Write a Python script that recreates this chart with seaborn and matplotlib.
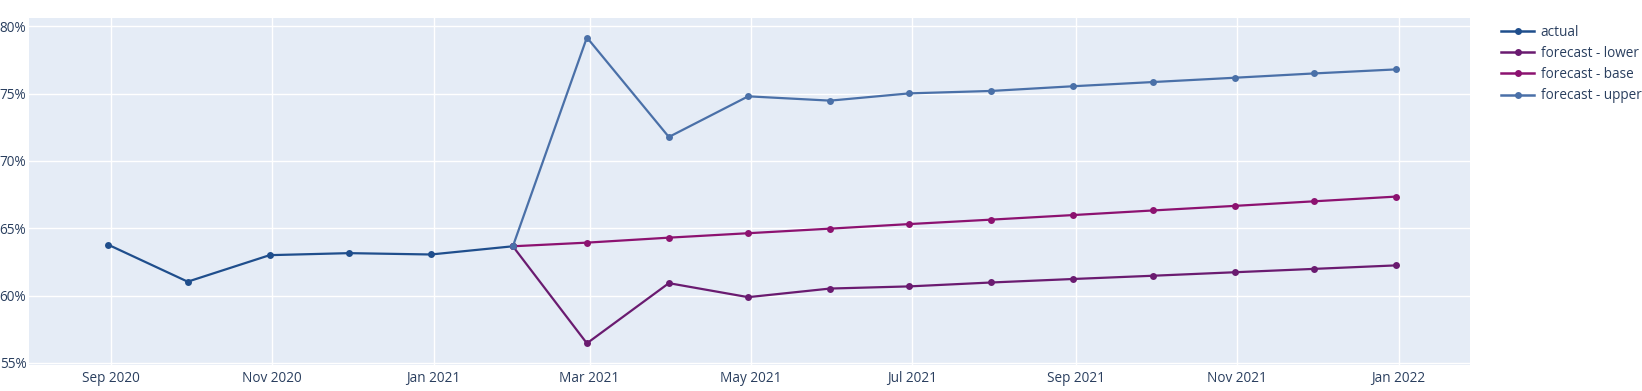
import pandas as pd
import matplotlib
matplotlib.use("Agg")
import matplotlib.pyplot as plt
import matplotlib.dates as mdates
from matplotlib.ticker import PercentFormatter
from matplotlib.lines import Line2D
import seaborn as sns

# month-end dates
actual_dates = ["2020-08-31", "2020-09-30", "2020-10-31", "2020-11-30", "2020-12-31", "2021-01-31"]
actual_vals = [63.77, 61.03, 63.0, 63.15, 63.05, 63.66]

forecast_dates = ["2021-01-31", "2021-02-28", "2021-03-31", "2021-04-30", "2021-05-31", "2021-06-30",
                  "2021-07-31", "2021-08-31", "2021-09-30", "2021-10-31", "2021-11-30", "2021-12-31"]
lower_vals = [63.66, 56.45, 60.92, 59.88, 60.52, 60.68, 60.97, 61.23, 61.47, 61.73, 61.98, 62.24]
base_vals = [63.66, 63.93, 64.3, 64.63, 64.97, 65.31, 65.64, 65.98, 66.32, 66.66, 67.0, 67.35]
upper_vals = [63.66, 79.17, 71.78, 74.8, 74.48, 75.02, 75.2, 75.55, 75.86, 76.18, 76.5, 76.8]

series_names = ["actual", "forecast - lower", "forecast - base", "forecast - upper"]
colors = ["#1F4E8C", "#6A1B70", "#8C1270", "#4A70A8"]

frames = [
    pd.DataFrame({"date": actual_dates, "value": actual_vals, "series": "actual"}),
    pd.DataFrame({"date": forecast_dates, "value": lower_vals, "series": "forecast - lower"}),
    pd.DataFrame({"date": forecast_dates, "value": base_vals, "series": "forecast - base"}),
    pd.DataFrame({"date": forecast_dates, "value": upper_vals, "series": "forecast - upper"}),
]
df = pd.concat(frames, ignore_index=True)
df["date"] = pd.to_datetime(df["date"])

plt.rcParams["font.family"] = ["Open Sans", "DejaVu Sans"]
text_color = "#2A3F5F"

fig = plt.figure(figsize=(16.42, 3.91), dpi=100)
ax = fig.add_axes([0.0177, 0.0665, 0.8775, 0.8875])
ax.set_facecolor("#E5ECF6")

palette = dict(zip(series_names, colors))
sns.lineplot(data=df, x="date", y="value", hue="series", hue_order=series_names,
             palette=palette, marker="o", markersize=5, markeredgewidth=0,
             linewidth=1.6, legend=False, ax=ax, zorder=3)

ax.set_xlim(pd.Timestamp("2020-08-01"), pd.Timestamp("2022-01-28"))
ax.set_ylim(54.84, 80.62)
ax.set_yticks([55, 60, 65, 70, 75, 80])
ax.yaxis.set_major_formatter(PercentFormatter(decimals=0))
ax.xaxis.set_major_locator(mdates.MonthLocator(bymonth=[1, 3, 5, 7, 9, 11]))
ax.xaxis.set_major_formatter(mdates.DateFormatter("%b %Y"))

ax.grid(True, color="white", linewidth=1, zorder=0)
ax.set_axisbelow(True)
for s in ax.spines.values():
    s.set_visible(False)
ax.tick_params(length=0, labelsize=9.8, labelcolor=text_color, pad=4)
ax.tick_params(axis="y", pad=2)
ax.set_xlabel("")
ax.set_ylabel("")

handles = [Line2D([0], [0], color=c, marker="o", markersize=5, markeredgewidth=0, linewidth=1.8)
           for c in colors]
fig.legend(handles, series_names, loc="upper left", bbox_to_anchor=(0.911, 0.95),
           frameon=False, fontsize=9.8, labelcolor=text_color, handlelength=2.4,
           handletextpad=0.5, labelspacing=0.45, borderaxespad=0)

fig.savefig("out.png", dpi=100)
